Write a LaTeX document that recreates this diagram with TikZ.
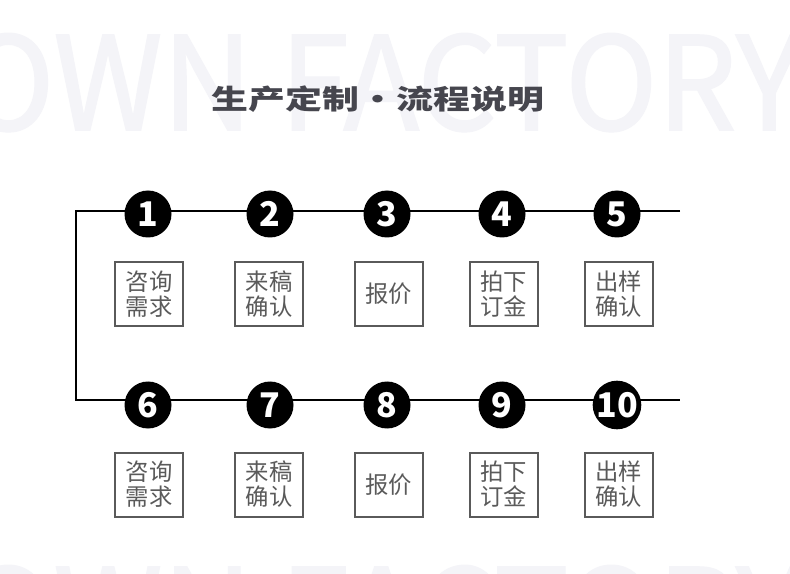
\documentclass[tikz,border=0pt]{standalone}
\usepackage{fontspec}
\usepackage{graphicx}
\newfontfamily\cjk{Noto Sans CJK SC}
\newfontfamily\wmfont{Noto Sans CJK SC}[FakeBold=1.5]
\definecolor{wm}{HTML}{F4F4F8}
\definecolor{ttl}{HTML}{46464E}
\definecolor{bx}{HTML}{5A5A5A}
\tikzset{
  wmtext/.style={anchor=base west, inner sep=0pt, text=wm, font=\wmfont\fontsize{97pt}{97pt}\selectfont},
  titletext/.style={inner sep=0pt, text=ttl, font=\cjk\bfseries\fontsize{20.5pt}{22pt}\selectfont},
  numc/.style={circle, fill=black, minimum size=35.25pt, inner sep=0pt, text=white, font=\cjk\bfseries\fontsize{25.5pt}{25.5pt}\selectfont},
  stepbox/.style={draw=bx, line width=1.5pt, minimum width=51pt, minimum height=48pt, inner sep=0pt, text=bx, align=center, font=\cjk\fontsize{17.5pt}{18.75pt}\selectfont},
  conn/.style={draw=black, line width=0.9pt}
}
\begin{document}
\begin{tikzpicture}[x=0.75pt, y=-0.75pt]
\path[use as bounding box] (0,0) rectangle (790,574);
\clip (0,0) rectangle (790,574);
\fill[white] (0,0) rectangle (790,574);
% watermarks
\node[wmtext] (wm1) at (-38,130) {\scalebox{0.96}[1]{OWN FACTORY}};
\node[wmtext] (wm2) at (-38,662) {\scalebox{0.96}[1]{OWN FACTORY}};
% title
\node[titletext] (title) at (378,99) {\scalebox{1.35}[1]{生产定制・流程说明}};
% connector lines
\coordinate (tl) at (76,211);
\coordinate (tr) at (680,211);
\coordinate (bl) at (76,400);
\coordinate (br) at (680,400);
\draw[conn] (tr) -- (tl) -- (bl) -- (br);
% top row
\foreach \i/\x in {1/148,2/270,3/387,4/502,5/617} {
  \node[numc] (c\i) at (\x,214) {\i};
}
\node[stepbox] (b1) at (149,294) {咨询\\需求};
\node[stepbox] (b2) at (269,294) {来稿\\确认};
\node[stepbox] (b3) at (388.5,294) {报价};
\node[stepbox] (b4) at (503.5,294) {拍下\\订金};
\node[stepbox] (b5) at (618.5,294) {出样\\确认};
% bottom row
\foreach \i/\x in {6/148,7/270,8/387,9/502,10/617} {
  \node[numc] (c\i) at (\x,405) {\i};
}
\node[stepbox] (b6) at (149,484.5) {咨询\\需求};
\node[stepbox] (b7) at (269,484.5) {来稿\\确认};
\node[stepbox] (b8) at (388.5,484.5) {报价};
\node[stepbox] (b9) at (503.5,484.5) {拍下\\订金};
\node[stepbox] (b10) at (618.5,484.5) {出样\\确认};
\end{tikzpicture}
\end{document}
